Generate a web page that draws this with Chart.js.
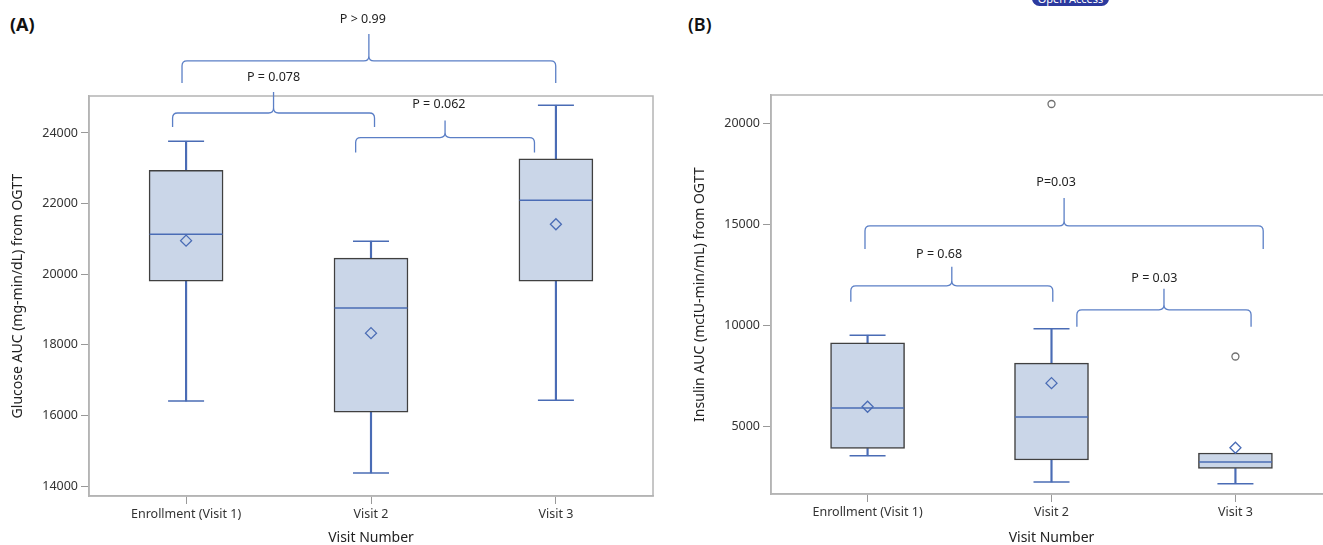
<!DOCTYPE html>
<html>
<head>
<meta charset="utf-8">
<script src="https://cdn.jsdelivr.net/npm/chart.js@4.4.1/dist/chart.umd.min.js"></script>
<style>
  html, body { margin: 0; padding: 0; width: 1323px; height: 545px; overflow: hidden; background: #fff; font-family: "Noto Sans", sans-serif; }
  canvas { position: absolute; top: 0; }
  #chartA { left: 0; }
  #chartB { left: 660px; }
  .tag { position: absolute; top: 12px; font-size: 18px; line-height: 24px; color: #111; }
  #badge { position: absolute; left: 1032px; top: -9px; width: 77px; height: 15px; border-radius: 8px; background: #2c3a9e; color: #fff; font-size: 11px; line-height: 15px; text-align: center; }
</style>
</head>
<body>
<div class="tag" style="left:10px;font-weight:bold">(A)</div>
<div class="tag" style="left:688px;font-weight:600">(B)</div>
<div id="badge">Open Access</div>
<canvas id="chartA" width="660" height="545"></canvas>
<canvas id="chartB" width="680" height="545"></canvas>
<script>
// categories on the x axis
const categories = ['Enrollment (Visit 1)', 'Visit 2', 'Visit 3'];

// (A) glucose AUC box statistics
const glucoseMin    = [16405, 14370, 16430];
const glucoseQ1     = [19800, 16095, 19805];
const glucoseMedian = [21130, 19040, 22095];
const glucoseQ3     = [22940, 20455, 23265];
const glucoseMax    = [23765, 20935, 24785];
const glucoseMean   = [20950, 18330, 21415];
const glucoseTicks  = [14000, 16000, 18000, 20000, 22000, 24000];

// (B) insulin AUC box statistics
const insulinMin      = [3550, 2250, 2165];
const insulinQ1       = [3910, 3340, 2920];
const insulinMedian   = [5910, 5465, 3240];
const insulinQ3       = [9145, 8135, 3685];
const insulinMax      = [9520, 9840, 3685];
const insulinMean     = [5975, 7145, 3945];
const insulinOutliers = [[], [20975], [8465]];
const insulinTicks    = [5000, 10000, 15000, 20000];

// p-value brackets (x in visit units, level in axis units)
const bracketsA = [
  { from: 0.978, to: 2.999, level: 26040, text: 'P > 0.99',  textX: 1.956, drop: 22, tip: 27, lift: 42 },
  { from: 0.927, to: 2.019, level: 24566, text: 'P = 0.078', textX: 1.473, drop: 14, tip: 21, lift: 36 },
  { from: 1.917, to: 2.884, level: 23870, text: 'P = 0.062', textX: 2.367, drop: 15, tip: 17, lift: 33 }
];
const bracketsB = [
  { from: 0.986, to: 3.151, level: 14936, text: 'P=0.03',   textX: 2.025, drop: 23, tip: 28, lift: 43 },
  { from: 0.909, to: 2.007, level: 11966, text: 'P = 0.68', textX: 1.389, drop: 16, tip: 19, lift: 31 },
  { from: 2.138, to: 3.085, level: 10778, text: 'P = 0.03', textX: 2.559, drop: 17, tip: 21, lift: 31 }
];

const FONT = '"Noto Sans", sans-serif';
const BLUE = '#4a6cb5';
const BOX_FILL = '#cad6e8';
const BOX_EDGE = '#404040';
const FRAME = '#b4b4b4';

const framePlugin = {
  id: 'frame',
  beforeDatasetsDraw(chart) {
    const a = chart.chartArea, ctx = chart.ctx;
    ctx.save();
    ctx.strokeStyle = FRAME;
    ctx.lineWidth = 1.5;
    ctx.strokeRect(a.left, a.top, a.right - a.left, a.bottom - a.top);
    ctx.restore();
  }
};

const bracketPlugin = {
  id: 'brackets',
  afterDraw(chart, args, opts) {
    const ctx = chart.ctx, xs = chart.scales.x, ys = chart.scales.y;
    ctx.save();
    ctx.strokeStyle = '#5b7fc6';
    ctx.lineWidth = 1.3;
    ctx.fillStyle = '#222';
    ctx.font = '12.5px ' + FONT;
    ctx.textAlign = 'center';
    ctx.textBaseline = 'middle';
    (opts.items || []).forEach(b => {
      const xl = xs.getPixelForValue(b.from);
      const xr = xs.getPixelForValue(b.to);
      const xm = (xl + xr) / 2;
      const y = ys.getPixelForValue(b.level);
      const r = 5;
      ctx.beginPath();
      ctx.moveTo(xl, y + b.drop);
      ctx.lineTo(xl, y + r);
      ctx.quadraticCurveTo(xl, y, xl + r, y);
      ctx.lineTo(xm - r, y);
      ctx.quadraticCurveTo(xm, y, xm, y - r);
      ctx.lineTo(xm, y - b.tip);
      ctx.moveTo(xm, y - r);
      ctx.quadraticCurveTo(xm, y, xm + r, y);
      ctx.lineTo(xr - r, y);
      ctx.quadraticCurveTo(xr, y, xr, y + r);
      ctx.lineTo(xr, y + b.drop);
      ctx.stroke();
      ctx.fillText(b.text, xs.getPixelForValue(b.textX), y - b.lift);
    });
    ctx.restore();
  }
};

function pts(values) {
  return values.map((v, i) => ({ x: i + 1, y: v }));
}

function makePanel(id, s, p) {
  const capsHigh = s.max.map((v, i) => v > s.q3[i] ? v : null);
  const outlierPts = [];
  s.outliers.forEach((list, i) => list.forEach(v => outlierPts.push({ x: i + 1, y: v })));
  return new Chart(document.getElementById(id), {
    type: 'bar',
    data: {
      datasets: [
        { type: 'bar', order: 6, grouped: false, barThickness: 74,
          data: s.q1.map((v, i) => ({ x: i + 1, y: [v, s.q3[i]] })),
          backgroundColor: BOX_FILL, borderColor: BOX_EDGE, borderWidth: 1.5, borderSkipped: false },
        { type: 'bar', order: 7, grouped: false, barThickness: 1.5,
          data: s.min.map((v, i) => ({ x: i + 1, y: [v, s.q1[i]] })),
          backgroundColor: BLUE, borderWidth: 0 },
        { type: 'bar', order: 7, grouped: false, barThickness: 1.5,
          data: s.q3.map((v, i) => ({ x: i + 1, y: [v, s.max[i]] })),
          backgroundColor: BLUE, borderWidth: 0 },
        { type: 'scatter', order: 3, data: pts(s.min).concat(pts(capsHigh).filter(d => d.y !== null)),
          pointStyle: 'line', pointRadius: 18, pointBorderColor: BLUE, pointBorderWidth: 1.5 },
        { type: 'scatter', order: 3, data: pts(s.median),
          pointStyle: 'line', pointRadius: 36.5, pointBorderColor: BLUE, pointBorderWidth: 1.5 },
        { type: 'scatter', order: 1, data: pts(s.mean),
          pointStyle: 'rectRot', pointRadius: 5.5, pointBackgroundColor: 'rgba(0,0,0,0)',
          pointBorderColor: BLUE, pointBorderWidth: 1.3 },
        { type: 'scatter', order: 1, data: outlierPts,
          pointStyle: 'circle', pointRadius: 3.5, pointBackgroundColor: '#fff',
          pointBorderColor: '#707070', pointBorderWidth: 1.3 }
      ]
    },
    options: {
      responsive: false,
      animation: false,
      events: [],
      layout: { autoPadding: false, padding: { top: p.top, right: p.right, left: 0, bottom: 0 } },
      plugins: { legend: { display: false }, tooltip: { enabled: false }, brackets: { items: p.brackets } },
      scales: {
        x: {
          type: 'linear', min: 0.475, max: 3.525, offset: false,
          afterFit: sc => { sc.height = p.xHeight; sc.paddingLeft = 0; sc.paddingRight = 0; },
          afterBuildTicks: sc => { sc.ticks = categories.map((c, i) => ({ value: i + 1 })); },
          ticks: { callback: v => categories[v - 1], color: '#333', maxRotation: 0, autoSkip: false,
                   padding: 3, font: { family: FONT, size: 12.5 } },
          grid: { drawOnChartArea: false, offset: false, tickLength: 8, color: '#999' },
          border: { color: FRAME, width: 1.5 },
          title: { display: true, text: 'Visit Number', color: '#222',
                   font: { family: FONT, size: 14 }, padding: { top: 0, bottom: -1 } }
        },
        y: {
          min: p.yMin, max: p.yMax,
          afterFit: sc => { sc.width = p.yWidth; },
          afterBuildTicks: sc => { sc.ticks = p.ticks.map(v => ({ value: v })); },
          ticks: { callback: v => String(v), color: '#333', padding: 3, font: { family: FONT, size: 12.5 } },
          grid: { drawOnChartArea: false, tickLength: 8, color: '#999' },
          border: { color: FRAME, width: 1.5 },
          title: { display: true, text: p.yTitle, color: '#222',
                   font: { family: FONT, size: 14 }, padding: { top: p.titlePad, bottom: 0 } }
        }
      }
    },
    plugins: [framePlugin, bracketPlugin]
  });
}

makePanel('chartA',
  { min: glucoseMin, q1: glucoseQ1, median: glucoseMedian, q3: glucoseQ3, max: glucoseMax,
    mean: glucoseMean, outliers: [[], [], []] },
  { top: 96, right: 7, xHeight: 49, yWidth: 89, yMin: 13717, yMax: 25047, ticks: glucoseTicks,
    yTitle: 'Glucose AUC (mg-min/dL) from OGTT', titlePad: 10, brackets: bracketsA });

makePanel('chartB',
  { min: insulinMin, q1: insulinQ1, median: insulinMedian, q3: insulinQ3, max: insulinMax,
    mean: insulinMean, outliers: insulinOutliers },
  { top: 95, right: 8, xHeight: 51, yWidth: 111, yMin: 1654, yMax: 21420, ticks: insulinTicks,
    yTitle: 'Insulin AUC (mcIU-min/mL) from OGTT', titlePad: 31.6, brackets: bracketsB });
</script>
</body>
</html>
